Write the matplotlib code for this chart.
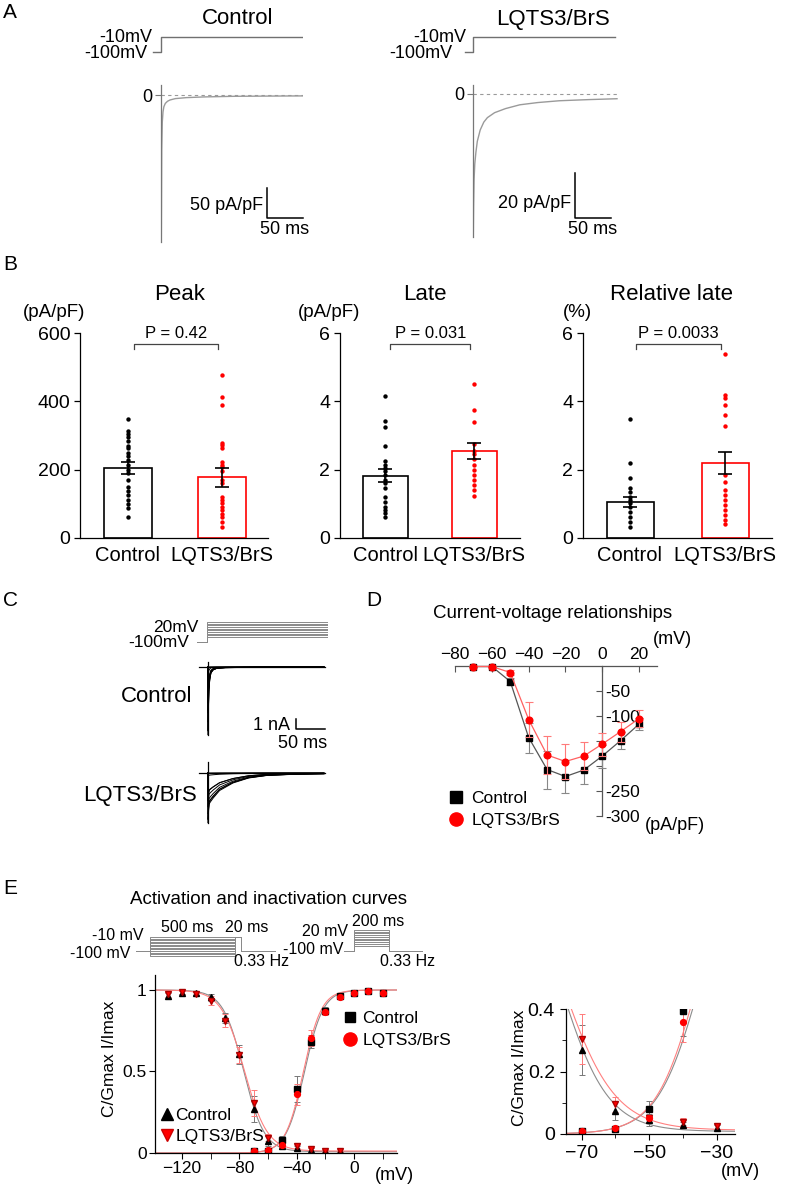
import numpy as np
import matplotlib
matplotlib.use("Agg")
import matplotlib.pyplot as plt
from matplotlib.lines import Line2D

plt.rcParams['font.family'] = ['Liberation Sans', 'DejaVu Sans']
plt.rcParams['axes.linewidth'] = 0.9

W, H = 787, 1186
RED = '#ff0000'
LINE_RED = '#ff6060'
ERR_RED = '#ff7a7a'

# ---------------- data ----------------
groups = ['Control', 'LQTS3/BrS']

# A: representative traces, step -100 -> -10 mV (ms, pA/pF)
a_step_t = [-11, 0, 0, 197]
a_step_v = [-100, -100, -10, -10]
a_ctrl_t = [0, 0.4, 1.0, 1.8, 2.8, 4, 6, 9, 12.5, 20, 35, 60, 100, 150, 197]
a_ctrl_i = [0, -245, -90, -45, -28, -19.5, -14, -10.5, -8.3, -6, -4.4, -3.2, -2.2, -1.8, -1.5]
a_lq_t = [0, 0.4, 0.8, 1.5, 2.5, 4, 6, 10, 15, 20, 30, 45, 65, 90, 120, 160, 200]
a_lq_i = [0, -63.5, -50, -38, -31, -26, -21, -16, -12.5, -10.5, -8.3, -6.5, -4.8, -3.8,
          -3.0, -2.5, -2.1]

# B: individual cells + mean/sem
peak_ctrl = [348, 312, 305, 295, 285, 270, 262, 250, 240, 228, 215, 200, 190,
             170, 150, 138, 125, 112, 100, 88, 62]
peak_lq = [478, 414, 388, 279, 272, 262, 223, 215, 208, 196, 171, 160, 120,
           111, 101, 91, 81, 71, 62, 47, 32]
peak_mean = [205, 178]
peak_sem = [18, 28]

late_ctrl = [4.15, 3.42, 3.25, 2.68, 2.25, 2.15, 2.05, 1.95, 1.85, 1.7, 1.6,
             1.45, 1.2, 1.05, 0.92, 0.82, 0.72, 0.62]
late_lq = [4.5, 3.75, 3.4, 2.75, 2.55, 2.45, 2.3, 2.15, 2.0, 1.85, 1.7, 1.55,
           1.4, 1.22]
late_mean = [1.82, 2.55]
late_sem = [0.19, 0.24]

rel_ctrl = [3.49, 2.19, 1.77, 1.45, 1.36, 1.21, 1.11, 1.01, 0.91, 0.77, 0.62,
            0.47, 0.32]
rel_lq = [5.4, 4.2, 4.1, 3.9, 3.6, 3.27, 1.85, 1.65, 1.4, 1.26, 1.1, 0.96,
          0.82, 0.67, 0.52, 0.42]
rel_mean = [1.05, 2.2]
rel_sem = [0.15, 0.33]

# C/D: current-voltage relationship
iv_v = [-70, -60, -50, -40, -30, -20, -10, 0, 10, 20]
iv_ctrl = [-1, -1, -31, -143, -207, -221, -208, -180, -149, -116]
iv_ctrl_err = [1, 1, 7, 30, 38, 33, 27, 23, 17, 12]
iv_lq = [-1, -1, -13, -107, -178, -191, -180, -156, -131, -105]
iv_lq_err = [1, 1, 5, 35, 38, 35, 28, 23, 20, 17]

# C: raw current families (nA), peak per test step and normalised time course
c_ctrl_peak = [-0.05, -0.05, -1.0, -4.4, -6.4, -6.8, -6.4, -5.5, -4.6, -3.6]
c_lq_peak = [-0.03, -0.03, -0.35, -2.8, -4.6, -5.0, -4.7, -4.1, -3.4, -2.75]
c_ctrl_t = [0, 0.3, 0.8, 1.5, 3, 5, 8.6, 15, 30, 80, 200]
c_ctrl_shape = [0, 1, 0.6, 0.35, 0.19, 0.09, 0.045, 0.02, 0.01, 0.004, 0.002]
c_lq_t = [0, 0.3, 1, 2, 4, 9, 20, 43, 70, 101, 150, 200]
c_lq_shape = [0, 1, 0.75, 0.62, 0.58, 0.5, 0.35, 0.2, 0.1, 0.05, 0.025, 0.015]

# E: steady-state inactivation and activation
inact_v = [-130, -120, -110, -100, -90, -80, -70, -60, -50, -40, -30, -20, -10]
inact_ctrl = [0.963, 0.983, 0.980, 0.955, 0.826, 0.605, 0.270, 0.075, 0.045,
              0.030, 0.020, 0.012, 0.010]
inact_ctrl_err = [0.02, 0.01, 0.01, 0.02, 0.03, 0.06, 0.08, 0.03, 0.02, 0.01,
                  0.01, 0.005, 0.005]
inact_lq = [0.975, 0.985, 0.975, 0.935, 0.810, 0.600, 0.305, 0.095, 0.050,
            0.040, 0.025, 0.014, 0.010]
inact_lq_err = [0.015, 0.01, 0.01, 0.03, 0.04, 0.05, 0.08, 0.023, 0.012, 0.01,
                0.008, 0.005, 0.005]
act_v = [-70, -60, -50, -40, -30, -20, -10, 0, 10, 20]
act_ctrl = [0.010, 0.015, 0.080, 0.393, 0.683, 0.873, 0.963, 0.983, 0.994, 0.983]
act_ctrl_err = [0.004, 0.005, 0.025, 0.08, 0.04, 0.02, 0.01, 0.008, 0.005, 0.005]
act_lq = [0.010, 0.018, 0.050, 0.360, 0.707, 0.865, 0.960, 0.983, 0.994, 0.980]
act_lq_err = [0.004, 0.005, 0.012, 0.065, 0.05, 0.02, 0.01, 0.008, 0.005, 0.005]

# Boltzmann fit parameters (V1/2, k, offset)
inact_fit = [(-77.0, 7.2, 0.008), (-76.5, 8.0, 0.012)]
act_fit = [(-34.5, -6.5, 0.0), (-35.3, -6.3, 0.0)]

# E protocols
inact_pre = list(range(-130, 0, 10))
act_test = list(range(-70, 30, 10))


fig = plt.figure(figsize=(W / 100, H / 100), dpi=100)


def px_axes(x0, y0, x1, y1):
    return fig.add_axes([x0 / W, 1 - y1 / H, (x1 - x0) / W, (y1 - y0) / H])


def ftext(x, y, s, size=12, ha='center', va='center', **kw):
    fig.text(x / W, 1 - y / H, s, fontsize=size, ha=ha, va=va, **kw)


def bare(ax):
    for sp in ax.spines.values():
        sp.set_visible(False)
    ax.set_xticks([])
    ax.set_yticks([])
    ax.patch.set_alpha(0)


def boltz(v, vh, k, c):
    return c + (1 - c) / (1 + np.exp((np.asarray(v) - vh) / k))


# panel letters
for lbl, x, y in [('A', 3, 12), ('B', 3, 265), ('C', 3, 601), ('D', 366, 601), ('E', 3, 888)]:
    ftext(x, y, lbl, 15, ha='left')

# ---------------- A ----------------
ms_a = 50 / 36
a_cfg = [
    dict(x0=161, x1=303, yb=245, y0=95, upp=50 / 30, t=a_ctrl_t, i=a_ctrl_i, sbx=267, sby=188,
         sbs=50, sbl='50 pA/pF', lbly=205, title='Control', tx=238, bot=-245, l10=152, l100=147),
    dict(x0=473, x1=620, yb=240, y0=94, upp=20 / 45, t=a_lq_t, i=a_lq_i, sbx=575, sby=173,
         sbs=20, sbl='20 pA/pF', lbly=203, title='LQTS3/BrS', tx=553, bot=-63.5, l10=466, l100=452),
]
for c in a_cfg:
    ax = px_axes(c['x0'] - 10, 30, c['x1'], 58)
    ax.plot(a_step_t, a_step_v, color='#707070', lw=1)
    ax.set_xlim(-10 * ms_a, (c['x1'] - c['x0']) * ms_a)
    ax.set_ylim(-136, 32)
    bare(ax)
    ftext(c['l10'], 37, '-10mV', 13, ha='right')
    ftext(c['l100'], 53, '-100mV', 13, ha='right')
    ftext(c['tx'], 19, c['title'], 16)

    ax = px_axes(c['x0'], 83, c['x1'], c['yb'])
    ax.plot(c['t'], c['i'], color='#9a9a9a', lw=1)
    ax.axhline(0, color='#9a9a9a', lw=0.8, ls=(0, (3, 3)))
    ax.set_xlim(0, (c['x1'] - c['x0']) * ms_a)
    ax.set_ylim(-(c['yb'] - c['y0']) * c['upp'], (c['y0'] - 83) * c['upp'])
    for s in ['top', 'right', 'bottom']:
        ax.spines[s].set_visible(False)
    ax.spines['left'].set_bounds(c['bot'], (c['y0'] - 85) * c['upp'])
    ax.spines['left'].set_color('#777777')
    ax.set_xticks([])
    ax.set_yticks([0])
    ax.tick_params(axis='y', length=4, color='#777777', labelsize=13, pad=2)
    ax.patch.set_alpha(0)
    sx = (c['sbx'] - c['x0']) * ms_a
    sy = -(c['sby'] - c['y0']) * c['upp']
    ax.plot([sx, sx, sx + 50], [sy, sy - c['sbs'], sy - c['sbs']], color='black', lw=1.1,
            clip_on=False)
    ax.text(sx - 4 * ms_a, -(c['lbly'] - c['y0']) * c['upp'], c['sbl'], ha='right',
            va='center', fontsize=13)
    ax.text(sx + 18 * ms_a, -(230 - c['y0']) * c['upp'], '50 ms', ha='center', va='center',
            fontsize=13, clip_on=False)

# ---------------- B ----------------
b_cfg = [
    dict(x0=80, x1=268, c0=128, c1=222, bw=48, ctrl=peak_ctrl, lq=peak_lq, m=peak_mean,
         e=peak_sem, ymax=600, yt=[0, 200, 400, 600], p='P = 0.42', title='Peak', tx=180,
         unit='(pA/pF)', ux=54),
    dict(x0=340, x1=520, c0=385, c1=474, bw=45, ctrl=late_ctrl, lq=late_lq, m=late_mean,
         e=late_sem, ymax=6, yt=[0, 2, 4, 6], p='P = 0.031', title='Late', tx=425,
         unit='(pA/pF)', ux=329),
    dict(x0=583, x1=772, c0=630, c1=725, bw=47, ctrl=rel_ctrl, lq=rel_lq, m=rel_mean,
         e=rel_sem, ymax=6, yt=[0, 2, 4, 6], p='P = 0.0033', title='Relative late', tx=671,
         unit='(%)', ux=577),
]
for c in b_cfg:
    s = c['c1'] - c['c0']
    ax = px_axes(c['x0'], 333, c['x1'], 538)
    ax.set_xlim((c['x0'] - c['c0']) / s, (c['x1'] - c['c0']) / s)
    ax.set_ylim(0, c['ymax'])
    ax.bar([0, 1], c['m'], width=c['bw'] / s, color='white', edgecolor=['black', RED],
           linewidth=1.2, zorder=1)
    ax.scatter(np.zeros(len(c['ctrl'])), c['ctrl'], s=10, color='black', zorder=3, linewidths=0)
    ax.scatter(np.ones(len(c['lq'])), c['lq'], s=10, color=RED, zorder=3, linewidths=0)
    ax.errorbar([0, 1], c['m'], yerr=c['e'], fmt='none', ecolor='black', elinewidth=1.2,
                capsize=5, capthick=1.2, zorder=4)
    b0, b1 = c['ymax'] * 0.922, c['ymax'] * 0.947
    ax.plot([0.06, 0.06, 0.96, 0.96], [b0, b1, b1, b0], color='#444444', lw=0.9, clip_on=False)
    ax.text(0.51, c['ymax'], c['p'], ha='center', va='center', fontsize=12)
    ax.spines[['top', 'right']].set_visible(False)
    ax.set_yticks(c['yt'])
    ax.tick_params(axis='y', labelsize=14, length=4, width=0.9, pad=3)
    ax.set_xticks([0, 1], groups)
    ax.tick_params(axis='x', labelsize=14.5, length=0, pad=6)
    ax.patch.set_alpha(0)
    ftext(c['tx'], 294, c['title'], 16)
    ftext(c['ux'], 313, c['unit'], 13.5)

# ---------------- C ----------------
ms_c = 50 / 29
ax = px_axes(197, 615, 328, 645)
for v in iv_v:
    ax.plot([-17, 0, 0, 208], [-100, -100, v, v], color='#8a8a8a', lw=0.7)
ax.set_xlim(-10 * ms_c, 121 * ms_c)
ax.set_ylim(-118, 62)
bare(ax)
ftext(199, 627, '20mV', 12.5, ha='right')
ftext(189, 642, '-100mV', 12.5, ha='right')

c_cfg = [
    dict(y0=660, y1=740, z=667, peaks=c_ctrl_peak, t=c_ctrl_t, sh=c_ctrl_shape, bot=-6.8,
         top=0.5, label='Control', lx=157, ly=696),
    dict(y0=760, y1=826, z=773, peaks=c_lq_peak, t=c_lq_t, sh=c_lq_shape, bot=-5.0,
         top=1.1, label='LQTS3/BrS', lx=140, ly=796),
]
for k, c in enumerate(c_cfg):
    ax = px_axes(199, c['y0'], 328, c['y1'])
    for p in c['peaks']:
        ax.plot(c['t'], np.array(c['sh']) * p, color='black', lw=0.7)
    ax.set_xlim(-9 * ms_c, 120 * ms_c)
    ax.set_ylim(-(c['y1'] - c['z']) / 10, (c['z'] - c['y0']) / 10)
    ax.spines[['top', 'right']].set_visible(False)
    ax.spines['left'].set_position(('data', 0))
    ax.spines['bottom'].set_position(('data', 0))
    ax.spines['left'].set_bounds(c['bot'], c['top'])
    ax.spines['bottom'].set_bounds(-9 * ms_c, 117 * ms_c)
    ax.set_xticks([])
    ax.set_yticks([])
    ax.patch.set_alpha(0)
    ftext(c['lx'], c['ly'], c['label'], 16)
    if k == 0:
        sx = (296 - 208) * ms_c
        ax.plot([sx, sx, sx + 50], [-5.2, -6.2, -6.2], color='black', lw=1.1, clip_on=False)
        ax.text((290 - 208) * ms_c, -5.8, '1 nA', ha='right', va='center', fontsize=13)
        ax.text((303 - 208) * ms_c, -7.7, '50 ms', ha='center', va='center', fontsize=13,
                clip_on=False)

# ---------------- D ----------------
ax = px_axes(455, 666, 657, 816)
ax.errorbar(iv_v, iv_ctrl, yerr=iv_ctrl_err, fmt='-s', color='#555555', lw=0.9, ms=4.2,
            mfc='black', mec='black', ecolor='#888888', elinewidth=0.8, capsize=3,
            capthick=0.8, clip_on=False, zorder=3)
ax.errorbar(iv_v, iv_lq, yerr=iv_lq_err, fmt='-o', color=LINE_RED, lw=0.9, ms=4.8,
            mfc=RED, mec=RED, ecolor=ERR_RED, elinewidth=0.8, capsize=3, capthick=0.8,
            clip_on=False, zorder=4)
ax.set_xlim(-79.5, 29.7)
ax.set_ylim(-300, 0)
ax.spines['bottom'].set_visible(False)
ax.spines['left'].set_visible(False)
ax.spines['right'].set_position(('data', 0))
ax.spines['right'].set_color('#555555')
ax.spines['top'].set_color('#555555')
ax.xaxis.tick_top()
ax.yaxis.tick_right()
ax.set_xticks([-80, -60, -40, -20, 0, 20])
ax.set_yticks([-50, -100, -150, -200, -250, -300], ['-50', '-100', '', '', '-250', '-300'])
ax.tick_params(axis='x', direction='in', length=4, labelsize=12.5, pad=3, color='#555555')
ax.tick_params(axis='y', direction='in', length=4, labelsize=12.5, pad=2, color='#555555')
ax.patch.set_alpha(0)
ftext(433, 614, 'Current-voltage relationships', 13.5, ha='left')
ftext(672, 639, '(mV)', 13)
ftext(645, 826, '(pA/pF)', 13, ha='left')
hd = [Line2D([], [], ls='none', marker='s', color='black', ms=8.5),
      Line2D([], [], ls='none', marker='o', color=RED, ms=9.5)]
ax.legend(hd, groups, loc='center left', bbox_to_anchor=(447 / W, 1 - 809.5 / H),
          bbox_transform=fig.transFigure, frameon=False, fontsize=12.5, handlelength=1,
          handletextpad=0.4, labelspacing=0.35, borderpad=0, borderaxespad=0)

# ---------------- E ----------------
ftext(269, 899, 'Activation and inactivation curves', 13.5)

ax = px_axes(136, 928, 276, 962)
for v in inact_pre:
    ax.plot([0, 14, 14, 99, 99, 105, 105, 140], [-100, -100, v, v, -10, -10, -100, -100],
            color='#8a8a8a', lw=0.7)
ax.set_xlim(0, 140)
ax.set_ylim(-170.7, 48)
bare(ax)
ftext(143, 936, '-10 mV', 11.5, ha='right')
ftext(130, 954, '-100 mV', 11.5, ha='right')
ftext(187, 927, '500 ms', 11.5)
ftext(247, 927, '20 ms', 11.5)
ftext(261, 962, '0.33 Hz', 11.5)

ax = px_axes(344, 915, 423, 962)
for v in act_test:
    ax.plot([0, 10, 10, 45, 45, 79], [-100, -100, v, v, -100, -100], color='#8a8a8a', lw=0.7)
ax.set_xlim(0, 79)
ax.set_ylim(-162.8, 105.6)
bare(ax)
ftext(348, 932, '20 mV', 11.5, ha='right')
ftext(343, 949, '-100 mV', 11.5, ha='right')
ftext(378, 921, '200 ms', 11.5)
ftext(408, 962, '0.33 Hz', 11.5)

vv = np.linspace(-140, 30, 400)


def e_data(ax):
    ax.plot(vv, boltz(vv, *inact_fit[0]), color='#8c8c8c', lw=0.8)
    ax.plot(vv, boltz(vv, *inact_fit[1]), color='#ff8080', lw=0.8)
    ax.plot(vv, boltz(vv, *act_fit[0]), color='#8c8c8c', lw=0.8)
    ax.plot(vv, boltz(vv, *act_fit[1]), color='#ff8080', lw=0.8)
    kw = dict(ls='none', elinewidth=0.7, capsize=2, capthick=0.7)
    ax.errorbar(inact_v, inact_ctrl, yerr=inact_ctrl_err, marker='^', color='black',
                ecolor='#777777', ms=4.5, **kw)
    ax.errorbar(inact_v, inact_lq, yerr=inact_lq_err, marker='v', color=RED, mec='#aa0000',
                ecolor=ERR_RED, ms=4.5, **kw)
    ax.errorbar(act_v, act_ctrl, yerr=act_ctrl_err, marker='s', color='black',
                ecolor='#777777', ms=3.8, **kw)
    ax.errorbar(act_v, act_lq, yerr=act_lq_err, marker='o', color=RED, ecolor=ERR_RED,
                ms=4.2, **kw)


ax = px_axes(155, 975, 397, 1153)
e_data(ax)
ax.set_xlim(-138.85, 30)
ax.set_ylim(0, 1.092)
ax.spines[['top', 'right']].set_visible(False)
ax.set_xticks([-120, -80, -40, 0])
ax.set_xticks([-100, -60, -20, 20], minor=True)
ax.set_yticks([0, 0.5, 1], ['0', '0.5', '1'])
ax.tick_params(which='both', labelsize=12.5, length=4, pad=2)
ax.patch.set_alpha(0)
ftext(110, 1059, 'C/Gmax I/Imax', 12.5, rotation=90)
ftext(394, 1175, '(mV)', 13)
h_act = [Line2D([], [], ls='none', marker='s', color='black', ms=6.5),
         Line2D([], [], ls='none', marker='o', color=RED, ms=9.5)]
leg1 = ax.legend(h_act, groups, loc='center left', bbox_to_anchor=(341.3 / W, 1 - 1029.5 / H),
                 bbox_transform=fig.transFigure, frameon=False, fontsize=12.5, handlelength=1,
                 handletextpad=0.2, labelspacing=0.4, borderpad=0, borderaxespad=0)
ax.add_artist(leg1)
h_inact = [Line2D([], [], ls='none', marker='^', color='black', ms=9),
           Line2D([], [], ls='none', marker='v', color=RED, mec='#cc0000', ms=9)]
ax.legend(h_inact, groups, loc='center left', bbox_to_anchor=(160 / W, 1 - 1126 / H),
          bbox_transform=fig.transFigure, frameon=False, fontsize=12.5, handlelength=0.8,
          handletextpad=0.1, labelspacing=0.35, borderpad=0, borderaxespad=0)

ax = px_axes(566, 1009, 735, 1134)
e_data(ax)
ax.set_xlim(-74.6, -24.6)
ax.set_ylim(0, 0.4)
ax.spines[['top', 'right']].set_visible(False)
ax.set_xticks([-70, -50, -30])
ax.set_xticks([-60, -40], minor=True)
ax.set_yticks([0, 0.2, 0.4], ['0', '0.2', '0.4'])
ax.set_yticks([0.1, 0.3], minor=True)
ax.tick_params(which='major', labelsize=14, length=4, pad=4)
ax.tick_params(which='minor', length=3)
ax.patch.set_alpha(0)
ftext(520, 1068, 'C/Gmax I/Imax', 12.5, rotation=90)
ftext(740, 1171, '(mV)', 13)

fig.savefig('out.png', dpi=100)
